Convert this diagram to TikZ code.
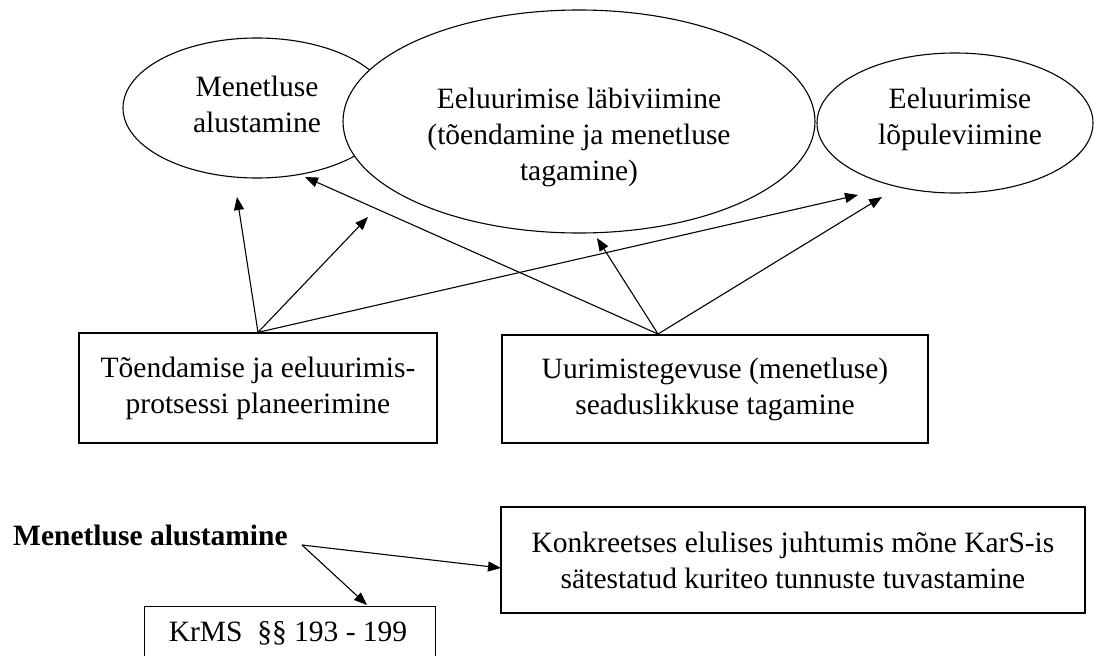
\documentclass[tikz,border=0pt]{standalone}
\usepackage{fontspec}
\setmainfont{Liberation Serif}
\usetikzlibrary{shapes.geometric,arrows.meta}
\tikzset{
  oval/.style={draw=black, ellipse, line width=1.1pt, inner sep=0pt},
  txt/.style={align=center, inner sep=0pt, font=\fontsize{29.5}{36}\selectfont},
  boxnode/.style={draw=black, rectangle, line width=1.3pt, align=center, inner sep=0pt,
    font=\fontsize{29.5}{36}\selectfont},
  arr/.style={line width=1.1pt, -{Triangle[length=13pt,width=10pt]}},
}
\begin{document}
\begin{tikzpicture}[x=1pt,y=-1pt]
\clip (0,0) rectangle (1096,656);
\fill[white] (0,0) rectangle (1096,656);
% ellipses
\node[oval, fill=white, minimum width=268pt, minimum height=140pt] (e1) at (257,108) {};
\node[oval, fill=white, minimum width=472pt, minimum height=223pt] (e2) at (579,121.5) {};
\node[oval, minimum width=276pt, minimum height=140pt] (e3) at (955,123) {};
\node[txt] (t1) at (257,104) {Menetluse\\alustamine};
\node[txt] (t2) at (579,137) {Eeluurimise läbiviimine\\(tõendamine ja menetluse\\tagamine)};
\node[txt] (t3) at (960,119) {Eeluurimise\\lõpuleviimine};
% boxes
\node[boxnode, minimum width=358pt, minimum height=110pt] (b1) at (258,388) {Tõendamise ja eeluurimis-\\protsessi planeerimine};
\node[boxnode, minimum width=426pt, minimum height=108pt] (b2) at (715,389) {Uurimistegevuse (menetluse)\\seaduslikkuse tagamine};
\node[boxnode, minimum width=584pt, minimum height=106pt] (b3) at (793,560) {Konkreetses elulises juhtumis mõne KarS-is\\sätestatud kuriteo tunnuste tuvastamine};
\node[boxnode, minimum width=291pt, minimum height=80pt, anchor=north west] (b4) at (144,606) {};
\node[txt] (t4) at (288,633) {KrMS\ \ §§ 193 - 199};
\node[txt, anchor=west, font=\fontsize{29.5}{36}\selectfont\bfseries] (ma) at (13,535) {Menetluse alustamine};
% connector anchor points
\coordinate (b2top) at (658,334);
\coordinate (mao) at (302,545);
\coordinate (p1) at (237,197);
\coordinate (p2) at (368,217);
\coordinate (p3) at (858,195);
\coordinate (p4) at (305,177);
\coordinate (p5) at (597,238);
\coordinate (p6) at (882,197);
\coordinate (p7) at (501,568);
\coordinate (p8) at (367,605);
% connectors
\draw[arr] (b1.north) -- (p1);
\draw[arr] (b1.north) -- (p2);
\draw[arr] (b1.north) -- (p3);
\draw[arr] (b2top) -- (p4);
\draw[arr] (b2top) -- (p5);
\draw[arr] (b2top) -- (p6);
\draw[arr] (mao) -- (p7);
\draw[arr] (mao) -- (p8);
\end{tikzpicture}
\end{document}
